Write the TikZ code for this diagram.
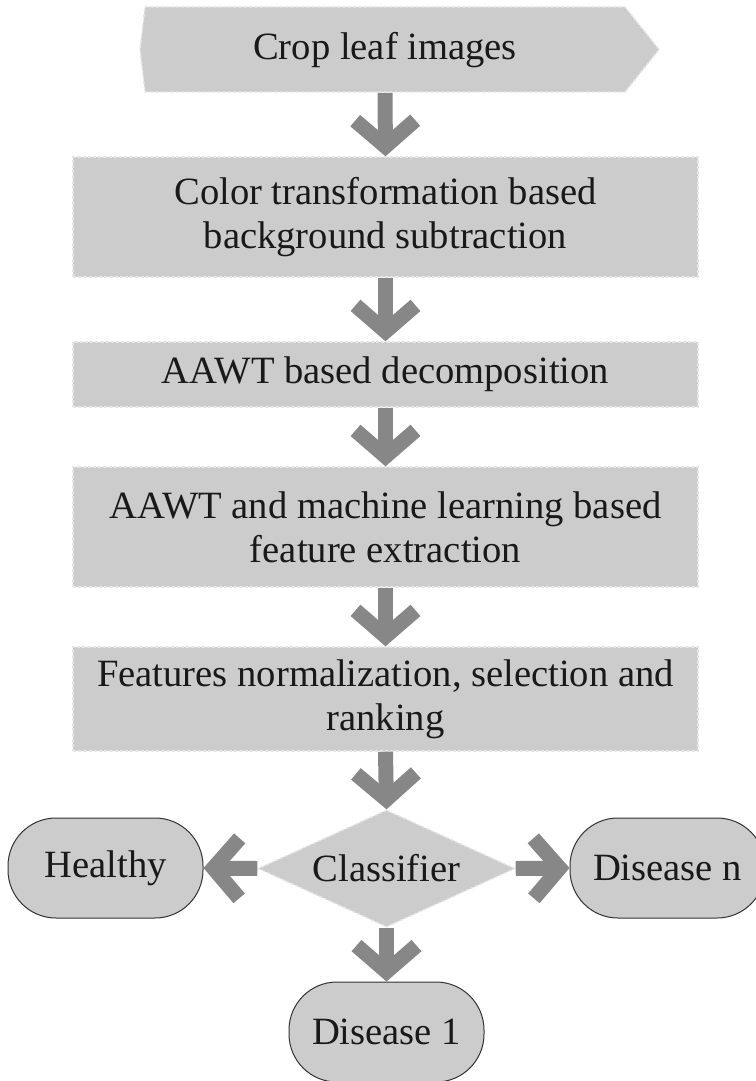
\documentclass[tikz,border=0pt]{standalone}
\usepackage{fontspec}
\setmainfont{Liberation Serif}
\usetikzlibrary{shapes.geometric,arrows.meta}
\definecolor{boxgray}{HTML}{CBCCCB}
\definecolor{arrowgray}{HTML}{878787}
\definecolor{edgegray}{HTML}{E6E6E6}
\newcommand*{\wbox }{312.5pt}
\newcommand*{\wcrop}{240pt}
\newcommand*{\wend }{97.5pt}
\newcommand*{\hend }{50pt}

\begin{document}
\begin{tikzpicture}[x=0.5pt,y=-0.5pt,
    font=\fontsize{19.3}{21.8}\selectfont, text=black!90,
    procbox/.style={rectangle, fill=boxgray, draw=edgegray, line width=0.7pt,
        dash pattern=on 1.6pt off 1pt, align=center, minimum width=\wbox, inner sep=0pt},
    endbox/.style={rectangle, rounded corners=24pt, fill=boxgray, draw=black!80,
        line width=0.5pt, minimum width=\wend, minimum height=\hend},
    decide/.style={diamond, shape aspect=2.2, fill=boxgray, draw=edgegray, line width=0.7pt,
        dash pattern=on 1.6pt off 1pt, inner sep=0pt, minimum width=128.5pt, minimum height=58.5pt},
    flow/.style={draw=arrowgray, line width=7.5pt, -{Straight Barb[length=13pt,width=30pt]}}]
    \useasboundingbox (0,0) rectangle (755,1081);
    % crop box with pointed ends
    \fill [boxgray, draw=edgegray, line width=0.7pt, dash pattern=on 1.6pt off 1pt]
        (145,7) -- (625,7) -- (659,49.5) -- (625,92) -- (145,92) -- (140,49.5) -- cycle;
    \node [rectangle, minimum width=\wcrop, minimum height=42.5pt, inner sep=0pt] (crop) at (385,50) {Crop leaf images};
    \node [procbox, minimum height=60pt]   (color) at (385.5,217)   {Color transformation based\\background subtraction};
    \node [procbox, minimum height=32.5pt] (aawt)  at (385.5,374.5) {AAWT based decomposition};
    \node [procbox, minimum height=60pt]   (feat)  at (385.5,527)   {AAWT and machine learning based\\feature extraction};
    \node [procbox, minimum height=52pt]   (norm)  at (385.5,699)   {Features normalization, selection and\\ranking};
    \node [decide] (clf) at (386.5,868.5) {Classifier};
    \node [endbox] (healthy) at (105.5,868) {Healthy};
    \node [endbox] (disn)    at (667.5,868) {Disease n};
    \node [endbox] (dis1)    at (386.5,1032) {Disease 1};
    \draw [flow] (crop.south)  -- (color.north);
    \draw [flow] (color.south) -- (aawt.north);
    \draw [flow] (aawt.south)  -- (feat.north);
    \draw [flow] (feat.south)  -- (norm.north);
    \draw [flow] (norm.south)  -- (clf.north);
    \draw [flow] (clf.west)    -- (healthy.east);
    \draw [flow] (clf.east)    -- (disn.west);
    \draw [flow] (clf.south)   -- (dis1.north);
\end{tikzpicture}
\end{document}
